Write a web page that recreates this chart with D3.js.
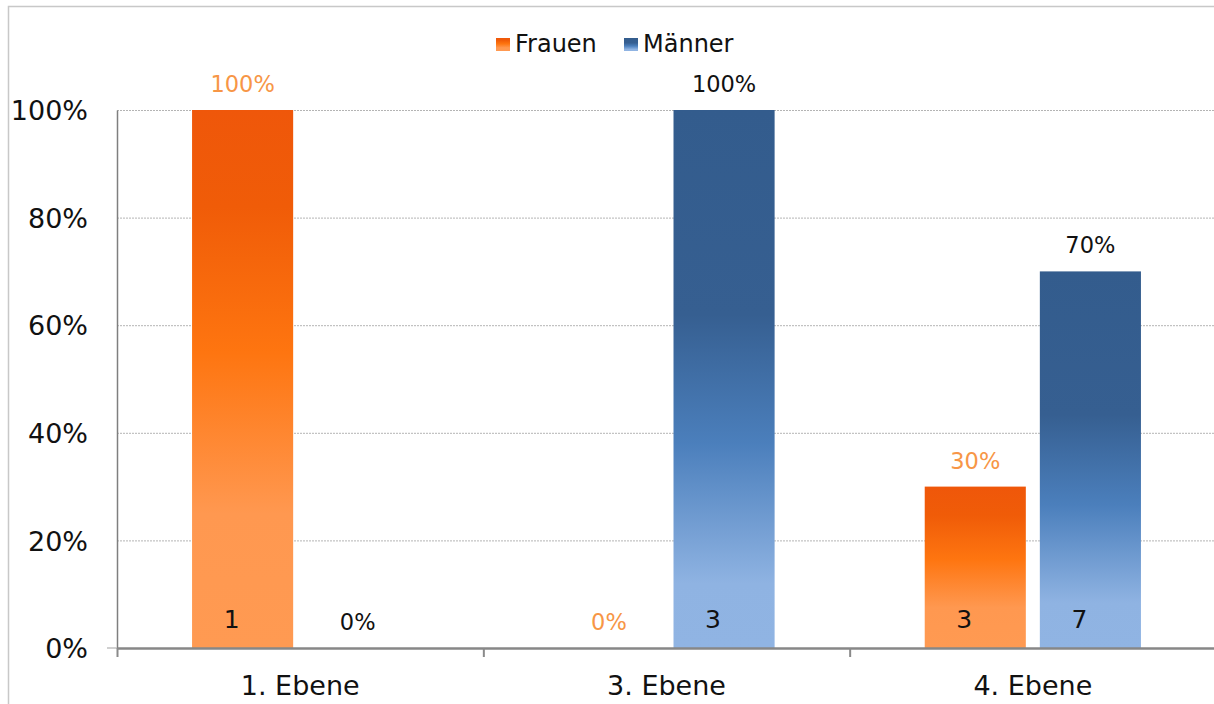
<!DOCTYPE html>
<html>
<head>
<meta charset="utf-8">
<script src="https://cdn.jsdelivr.net/npm/d3@7"></script>
<style>
  html, body { margin: 0; padding: 0; background: #fff; }
  svg { display: block; font-family: "DejaVu Sans", Verdana, sans-serif; }
</style>
</head>
<body>
<svg id="chart" width="1214" height="704"></svg>
<script>
// Anteil Frauen / Männer je Führungsebene
const categories = ["1. Ebene", "3. Ebene", "4. Ebene"];
const seriesNames = ["Frauen", "Männer"];
const frauenPct = [100, 0, 30];
const maennerPct = [0, 100, 70];
const frauenCount = [1, 0, 3];
const maennerCount = [0, 3, 7];
const yTicks = [0, 20, 40, 60, 80, 100];

const svg = d3.select("#chart");
const W = 1214, H = 704;
const plot = { left: 117, right: 1216, top: 110, bottom: 648 };

// outer chart frame
svg.append("rect")
  .attr("x", 8.5).attr("y", 6.5)
  .attr("width", W + 10).attr("height", H + 10)
  .attr("fill", "#fff").attr("stroke", "#c8c8c8").attr("stroke-width", 1.5);

// gradients
const defs = svg.append("defs");
const grads = {
  Frauen: [
    [0, "#ef570a"], [0.18, "#f05c08"], [0.45, "#fe7510"], [0.75, "#ff9850"], [1, "#ff9a52"]
  ],
  "Männer": [
    [0, "#335c8d"], [0.38, "#365f91"], [0.62, "#4b7fbc"], [0.88, "#8fb3e2"], [1, "#90b4e3"]
  ]
};
Object.entries(grads).forEach(([name, stops], i) => {
  const g = defs.append("linearGradient")
    .attr("id", "grad" + i)
    .attr("x1", 0).attr("y1", 0).attr("x2", 0).attr("y2", 1);
  stops.forEach(([o, c]) => g.append("stop").attr("offset", o).attr("stop-color", c));
});

const x = d3.scaleBand().domain(categories).range([plot.left, plot.right]).padding(0);
const xs = d3.scaleBand().domain(seriesNames).range([0, x.bandwidth()])
  .paddingInner(0.1217).paddingOuter(0.652);
const y = d3.scaleLinear().domain([0, 100]).range([plot.bottom, plot.top]);

// gridlines
svg.append("g").selectAll("line").data(yTicks.filter(t => t > 0)).join("line")
  .attr("x1", plot.left).attr("x2", plot.right)
  .attr("y1", d => y(d) + 0.5).attr("y2", d => y(d) + 0.5)
  .attr("stroke", "#b4b4b4").attr("stroke-width", 1).attr("stroke-dasharray", "2,1");

// y axis
const yAxis = svg.append("g").attr("transform", `translate(${plot.left},0)`)
  .call(d3.axisLeft(y).tickValues(yTicks).tickFormat(d => d + "%").tickSize(0).tickPadding(29));
yAxis.select(".domain").attr("stroke", "#7f7f7f").attr("stroke-width", 1.5);
yAxis.selectAll("text").attr("font-size", 27).attr("fill", "#111")
  .attr("font-family", "DejaVu Sans, sans-serif").attr("dy", "0.36em");
svg.append("line").attr("x1", plot.left - 10).attr("x2", plot.left)
  .attr("y1", plot.bottom).attr("y2", plot.bottom).attr("stroke", "#c0c0c0").attr("stroke-width", 1.5);

// bars
const rows = categories.map((c, i) => ({
  cat: c,
  vals: [
    { s: "Frauen", pct: frauenPct[i], n: frauenCount[i], gi: 0, lc: "#f79646" },
    { s: "Männer", pct: maennerPct[i], n: maennerCount[i], gi: 1, lc: "#111" }
  ]
}));

const groups = svg.append("g").selectAll("g").data(rows).join("g")
  .attr("transform", d => `translate(${x(d.cat)},0)`);

groups.selectAll("rect").data(d => d.vals.filter(v => v.pct > 0)).join("rect")
  .attr("x", v => xs(v.s)).attr("width", xs.bandwidth())
  .attr("y", v => y(v.pct)).attr("height", v => y(0) - y(v.pct))
  .attr("fill", v => `url(#grad${v.gi})`);

// percentage labels above bars
groups.selectAll("text.pct").data(d => d.vals).join("text")
  .attr("class", "pct")
  .attr("x", v => xs(v.s) + xs.bandwidth() / 2)
  .attr("y", v => y(v.pct) - 18)
  .attr("text-anchor", "middle").attr("font-size", 22.5)
  .attr("fill", v => v.lc)
  .text(v => v.pct + "%");

// count labels inside bars
groups.selectAll("text.cnt").data(d => d.vals.filter(v => v.n > 0)).join("text")
  .attr("class", "cnt")
  .attr("x", v => xs(v.s) + xs.bandwidth() / 2 - 11)
  .attr("y", plot.bottom - 20)
  .attr("text-anchor", "middle").attr("font-size", 25).attr("fill", "#111")
  .text(v => v.n);

// x axis
const xAxis = svg.append("g").attr("transform", `translate(0,${plot.bottom})`)
  .call(d3.axisBottom(x).tickSize(0).tickPadding(28));
xAxis.select(".domain").attr("stroke", "#878787").attr("stroke-width", 2.5);
xAxis.selectAll("text").attr("font-size", 27).attr("fill", "#111")
  .attr("font-family", "DejaVu Sans, sans-serif");
svg.append("g").selectAll("line").data(categories).join("line")
  .attr("x1", d => x(d) + 0.5).attr("x2", d => x(d) + 0.5)
  .attr("y1", plot.bottom).attr("y2", plot.bottom + 9)
  .attr("stroke", "#8a8a8a").attr("stroke-width", 2);

// legend
const legend = svg.append("g").attr("transform", "translate(496,44)");
const legItems = [
  { s: "Frauen", gi: 0, x: 0 },
  { s: "Männer", gi: 1, x: 128 }
];
legItems.forEach(it => {
  legend.append("rect").attr("x", it.x).attr("y", -6).attr("width", 14).attr("height", 13)
    .attr("fill", `url(#grad${it.gi})`);
  legend.append("text").attr("x", it.x + 19).attr("y", 8)
    .attr("font-size", 24).attr("fill", "#111").text(it.s);
});
</script>
</body>
</html>
